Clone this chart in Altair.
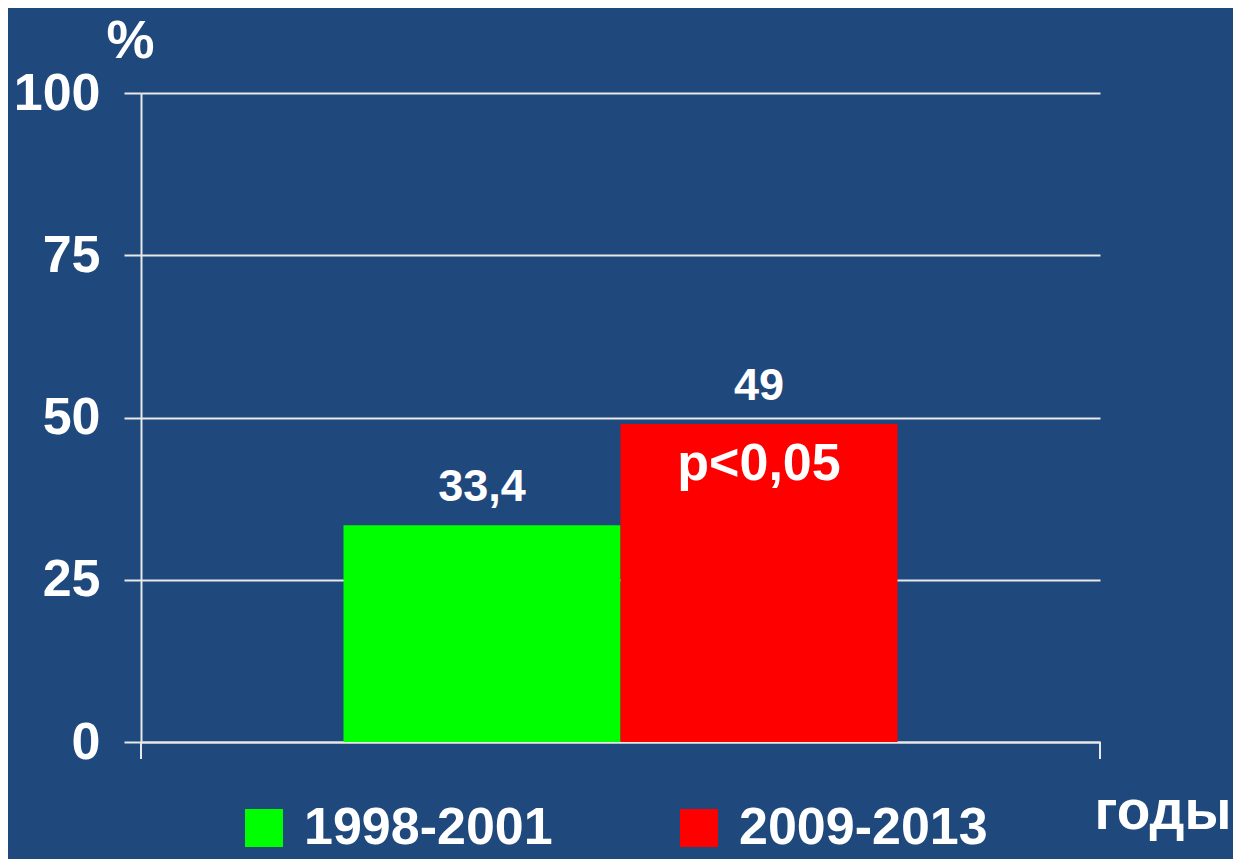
import altair as alt
import pandas as pd

periods = ["1998-2001", "2009-2013"]
values = [33.4, 49.0]
value_labels = ["33,4", "49"]
bar_colors = ["#00FF00", "#FF0000"]
y_ticks = [0, 25, 50, 75, 100]
p_label = "p<0,05"
y_title = "%"
x_title = "годы"

FONT = "Liberation Sans"
BG = "#1F497D"

df = pd.DataFrame({"period": periods, "value": values, "label": value_labels})
df_p = df[df["period"] == periods[1]].assign(label=p_label)

x_enc = alt.X(
    "period:N",
    sort=periods,
    scale=alt.Scale(domain=periods, paddingInner=0, paddingOuter=0.731),
    axis=alt.Axis(
        title=x_title, labels=False, ticks=False, grid=False,
        domain=True, domainColor="#e8e8e8", domainWidth=2,
        titleX=953, titleY=86, titleAlign="left", titleBaseline="alphabetic",
        titleAngle=0, titleFontSize=55, titleFont=FONT, titleFontWeight="bold",
        titleColor="white",
    ),
)
y_enc = alt.Y(
    "value:Q",
    scale=alt.Scale(domain=[0, 100], nice=False),
    axis=alt.Axis(
        values=y_ticks, title=y_title, titleAngle=0, titleX=-11, titleY=-36,
        titleAlign="center", titleBaseline="alphabetic", titleFontSize=54,
        titleFont=FONT, titleFontWeight="bold", titleColor="white",
        grid=True, gridColor="#e8e8e8", gridWidth=2,
        tickSize=17, tickColor="#e8e8e8", tickWidth=2,
        domainColor="#e8e8e8", domainWidth=2,
        labelFontSize=52, labelFont=FONT, labelFontWeight="bold",
        labelColor="white", labelPadding=24,
    ),
)

base = alt.Chart(df)

bars = base.mark_bar(opacity=1).encode(
    x=x_enc,
    y=y_enc,
    color=alt.Color(
        "period:N",
        scale=alt.Scale(domain=periods, range=bar_colors),
        legend=alt.Legend(
            orient="none", legendX=97, legendY=709, direction="horizontal",
            title=None, symbolType="square", symbolSize=1444,
            symbolStrokeWidth=0, symbolOpacity=1,
            labelFontSize=52, labelFont=FONT, labelFontWeight="bold",
            labelColor="white", labelOffset=14, labelLimit=500,
            columnPadding=120, padding=0,
        ),
    ),
)

value_text = base.mark_text(
    dy=-24, baseline="alphabetic", align="center", fontSize=45,
    fontWeight="bold", font=FONT, color="white",
).encode(x=x_enc, y=y_enc, text="label:N")

p_text = alt.Chart(df_p).mark_text(
    dy=56, baseline="alphabetic", align="center", fontSize=52,
    fontWeight="bold", font=FONT, color="white",
).encode(x=x_enc, y=y_enc, text="label:N")

deco = pd.DataFrame({"k": [0]})
left_ext = alt.Chart(deco).mark_rule(color="#e8e8e8", strokeWidth=2).encode(
    x=alt.value(0), y=alt.value(649), y2=alt.value(666)
)
right_tick = alt.Chart(deco).mark_rule(color="#e8e8e8", strokeWidth=2).encode(
    x=alt.value(959), y=alt.value(649), y2=alt.value(666)
)

chart = alt.layer(bars, value_text, p_text, left_ext, right_tick).properties(
    width=959,
    height=649,
    background=BG,
    padding={"left": 133, "top": 85, "right": 133, "bottom": 117},
    autosize=alt.AutoSizeParams(type="none"),
).configure_view(stroke=None)

chart.save("out.html", embed_options={"renderer": "svg", "actions": False})
